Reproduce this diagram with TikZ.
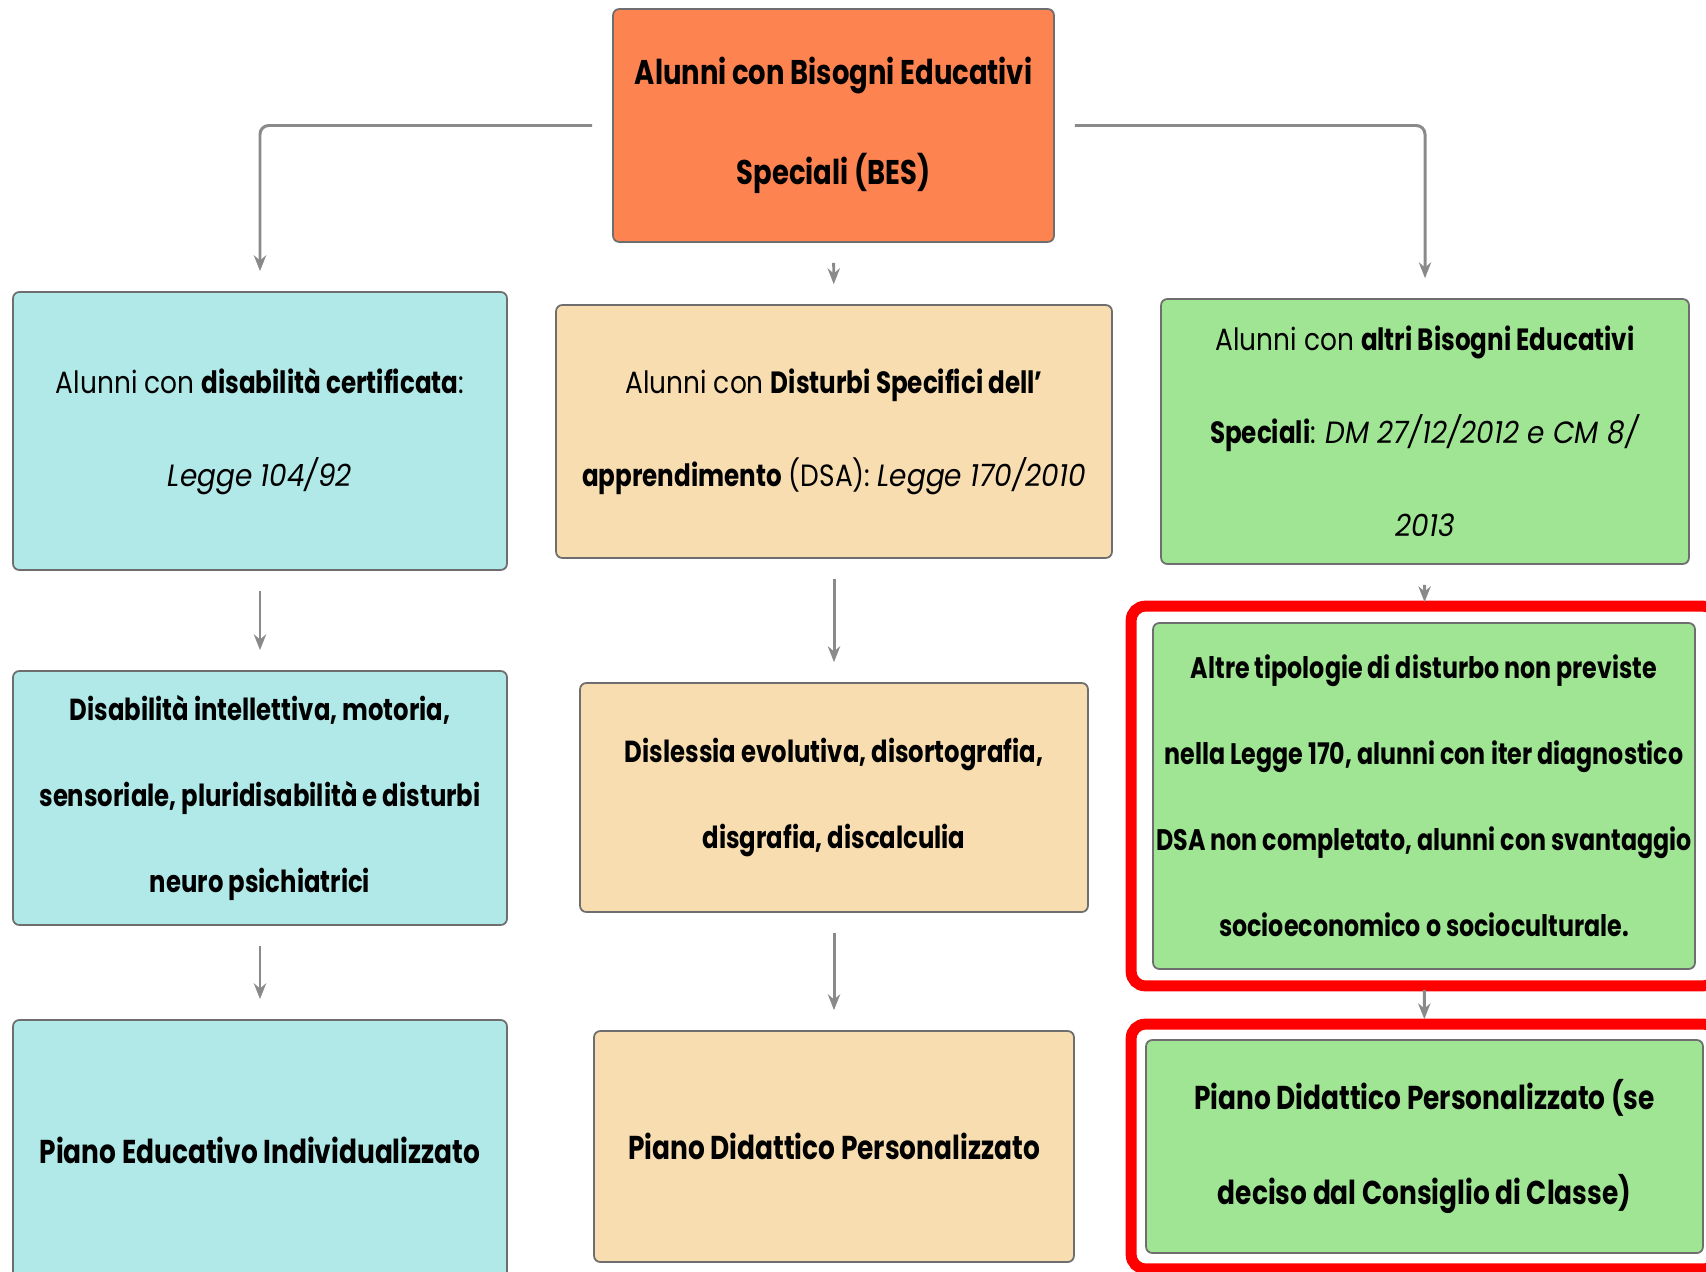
\documentclass[tikz,border=0pt]{standalone}
\usepackage{fontspec}
\setmainfont{Poppins}[UprightFeatures={FakeStretch=0.86},
    BoldFeatures={FakeStretch=0.8}, ItalicFeatures={FakeStretch=0.91}]
\usetikzlibrary{arrows.meta,positioning,fit}

\definecolor{besorange}{HTML}{FD8450}
\definecolor{bescyan}{HTML}{B0E9E8}
\definecolor{beswheat}{HTML}{F7DDB0}
\definecolor{besgreen}{HTML}{A0E594}
\definecolor{boxline}{HTML}{6E6E6E}
\definecolor{arrgray}{HTML}{8A8A8A}

\begin{document}
\begin{tikzpicture}[
        x=0.02cm, y=-0.02cm,
        box/.style={rectangle, rounded corners=3.5pt, draw=boxline, line width=1pt,
            align=center, inner sep=0pt, font=\fontsize{17.5}{53}\selectfont},
        toprow/.style={font=\fontsize{19.5}{57}\selectfont},
        midrow/.style={font=\fontsize{17.3}{49}\selectfont},
        lastrow/.style={font=\fontsize{18.8}{54}\selectfont},
        arr/.style={-{Stealth[length=9pt, width=7pt]}, line width=1.7pt, draw=arrgray,
            rounded corners=5pt, shorten <=0.4cm, shorten >=0.4cm},
        hilite/.style={rectangle, draw=red, line width=0.22cm, rounded corners=8pt,
            inner xsep=0.42cm, inner ysep=0.32cm}
    ]
    \useasboundingbox (0,0) rectangle (1706,1271);
    \clip (0,0) rectangle (1706,1271);

    \node[box, toprow, fill=besorange, minimum width=8.82cm, minimum height=4.66cm] (bes) at (833.5,125.5)
        {\bfseries Alunni con Bisogni Educativi\\\bfseries Speciali (BES)};

    % first row
    \node[box, fill=bescyan, minimum width=9.88cm, minimum height=5.56cm] (disab) at (260,431)
        {Alunni con \textbf{disabilità certificata}:\\\textit{Legge 104/92}};
    \node[box, fill=beswheat, minimum width=11.12cm, minimum height=5.06cm] (dsa) at (834,431.5)
        {Alunni con \textbf{Disturbi Specifici dell’}\\\textbf{apprendimento} (DSA): \textit{Legge 170/2010}};
    \node[box, fill=besgreen, minimum width=10.56cm, minimum height=5.3cm] (altri) at (1425,431.5)
        {Alunni con \textbf{altri Bisogni Educativi}\\\textbf{Speciali}: \textit{DM 27/12/2012 e CM 8/}\\\textit{2013}};

    % second row
    \node[box, midrow, fill=bescyan, minimum width=9.88cm, minimum height=5.08cm] (disabtipi) at (260,798)
        {\bfseries Disabilità intellettiva, motoria,\\\bfseries sensoriale, pluridisabilità e disturbi\\\bfseries neuro psichiatrici};
    \node[box, midrow, fill=beswheat, minimum width=10.16cm, minimum height=4.58cm] (dsatipi) at (834,797.5)
        {\bfseries Dislessia evolutiva, disortografia,\\\bfseries disgrafia, discalculia};
    \node[box, fill=besgreen, font=\fontsize{16.9}{49}\selectfont, minimum width=10.84cm, minimum height=6.92cm] (altritipi) at (1424,796)
        {\bfseries Altre tipologie di disturbo non previste\\\bfseries nella Legge 170, alunni con iter diagnostico\\\bfseries DSA non completato, alunni con svantaggio\\\bfseries socioeconomico o socioculturale.};

    % third row
    \node[box, lastrow, fill=bescyan, minimum width=9.88cm, minimum height=5.2cm] (pei) at (260,1150)
        {\bfseries Piano Educativo Individualizzato};
    \node[box, lastrow, fill=beswheat, minimum width=9.6cm, minimum height=4.62cm] (pdp) at (834,1146.5)
        {\bfseries Piano Didattico Personalizzato};
    \node[box, lastrow, fill=besgreen, minimum width=11.14cm, minimum height=4.26cm] (pdpcdc) at (1424.5,1146.5)
        {\bfseries Piano Didattico Personalizzato (se\\\bfseries deciso dal Consiglio di Classe)};

    % red highlight frames
    \node[hilite, fit=(altritipi)] (frame1) {};
    \node[hilite, inner xsep=0.28cm, inner ysep=0.3cm, fit=(pdpcdc)] (frame2) {};

    \draw[arr] (bes.west) -| (disab.north);
    \draw[arr] (bes.east) -| (altri.north);
    \draw[arr] (bes) -- (dsa);
    \draw[arr] (disab) -- (disabtipi);
    \draw[arr] (disabtipi) -- (pei);
    \draw[arr] (dsa) -- (dsatipi);
    \draw[arr] (dsatipi) -- (pdp);
    \draw[arr] (altri) -- (altritipi);
    \draw[arr] (altritipi) -- (pdpcdc);
\end{tikzpicture}
\end{document}
